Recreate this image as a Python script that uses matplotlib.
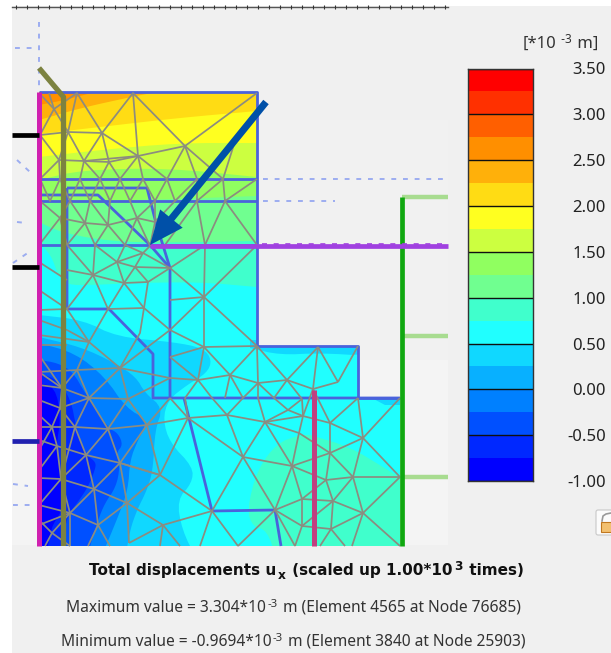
import numpy as np
import matplotlib
matplotlib.use('Agg')
import matplotlib.pyplot as plt
from matplotlib.collections import LineCollection
from matplotlib.colors import ListedColormap
from matplotlib.patches import Polygon, Rectangle, FancyBboxPatch

plt.rcParams['font.family'] = ['Noto Sans', 'DejaVu Sans']

# Colour scale
bar_ticks = [3.50, 3.00, 2.50, 2.00, 1.50, 1.00, 0.50, 0.00, -0.50, -1.00]
bar_colors = ['#0000ff', '#0028ff', '#0050ff', '#0080ff', '#08b0ff', '#10d8ff',
              '#20ffff', '#40ffcc', '#70ff90', '#90ff60', '#ccff40', '#ffff20',
              '#ffdc14', '#ffb00a', '#ff8f00', '#ff5f00', '#ff3000', '#ff0000']

# Outline of the model
model_outline = [(39, 92), (257, 92), (257, 346), (358, 346), (358, 398),
                 (400, 398), (400, 546), (39, 546)]

# Contour bands, lowest layer first
field_base = '#20ffff'
upper_bands = [
    ('#40ffcc', [(39, 243), (51, 255), (58, 275), (67, 285), (93, 285), (133, 283), (200, 282), (257, 287)]),
    ('#70ff90', [(39, 222), (60, 232), (100, 240), (150, 243), (257, 241)]),
    ('#90ff60', [(39, 201), (150, 200), (257, 196)]),
    ('#ccff40', [(39, 180), (81, 170), (167, 168), (257, 177)]),
    ('#ffff20', [(39, 157), (100, 150), (178, 143), (257, 143)]),
    ('#ffdc14', [(39, 134), (100, 127), (178, 118), (257, 111)]),
    ('#ffb00a', [(39, 120), (81, 108), (131, 97), (157, 92)]),
    ('#ff8f00', [(39, 105), (65, 100), (95, 92)]),
]
patch_bands = [
    ('#40ffcc', [(300, 435), (277, 443), (257, 470), (247, 510), (253, 527), (267, 530), (277, 560),
                 (420, 560), (420, 490), (383, 467), (350, 447), (310, 435)]),
    ('#10d8ff', [(250, 348), (280, 355), (320, 353), (370, 356), (370, 340), (250, 340)]),
    ('#10d8ff', [(370, 397), (410, 397), (410, 405), (385, 405)]),
]
blue_bands = [
    ('#10d8ff', [(39, 315), (83, 320), (117, 337), (173, 342), (203, 348), (212, 360), (207, 373), (187, 385),
                 (168, 400), (163, 420), (170, 443), (193, 467), (192, 483), (177, 500), (182, 530), (197, 560)]),
    ('#08b0ff', [(39, 337), (81, 347), (115, 363), (136, 377), (145, 393), (163, 408), (155, 430), (153, 470),
                 (147, 490), (137, 510), (130, 530), (125, 560)]),
    ('#0080ff', [(39, 343), (75, 353), (105, 377), (126, 408), (148, 420), (138, 440), (130, 460), (128, 490),
                 (118, 517), (100, 560)]),
    ('#0050ff', [(39, 360), (58, 363), (73, 372), (85, 393), (108, 428), (118, 433), (123, 445), (116, 453),
                 (120, 467), (116, 487), (105, 503), (98, 520), (86, 560)]),
    ('#0028ff', [(39, 373), (58, 380), (71, 400), (76, 427), (86, 455), (96, 462), (95, 470), (88, 487),
                 (78, 502), (66, 517), (62, 560)]),
    ('#0000ff', [(39, 383), (55, 387), (61, 417), (56, 447), (61, 477), (66, 493), (61, 513), (51, 527), (46, 560)]),
]

# Finite element mesh
mesh_edges = [
    [(39, 93), (54, 109), (77, 93), (102, 133), (133, 93), (138, 156), (102, 133)],
    [(77, 93), (68, 132), (54, 109), (49, 93)], [(54, 109), (40, 135)], [(133, 93), (185, 146), (257, 93)],
    [(40, 135), (68, 132), (102, 133)], [(68, 132), (59, 160), (40, 135)], [(102, 133), (84, 161), (68, 132)],
    [(102, 133), (109, 162), (138, 156), (185, 146)], [(59, 160), (84, 161), (109, 162)], [(84, 161), (138, 156)],
    [(59, 160), (60, 179)], [(59, 160), (40, 179)], [(84, 161), (80, 179)], [(84, 161), (100, 179)],
    [(109, 162), (100, 179)], [(109, 162), (120, 179)], [(138, 156), (120, 179)], [(138, 156), (143, 179)],
    [(138, 156), (167, 179)], [(185, 146), (167, 179)], [(185, 146), (197, 179)], [(185, 146), (223, 179)],
    [(223, 179), (237, 135)],
    [(40, 179), (50, 201), (60, 179), (70, 201), (80, 179), (90, 201), (100, 179), (110, 201), (120, 179),
     (130, 201), (143, 179), (155, 201), (167, 179), (175, 201), (197, 179), (197, 201), (223, 179), (225, 201), (257, 179)],
    [(40, 201), (60, 218), (85, 223), (108, 225), (137, 218), (155, 222)],
    [(60, 218), (70, 201), (85, 223), (90, 201), (108, 225), (110, 201)],
    [(137, 218), (130, 201)], [(137, 218), (155, 201)], [(155, 201), (155, 222)], [(175, 201), (155, 222)],
    [(197, 201), (205, 245)], [(197, 201), (165, 245)], [(225, 201), (205, 245)], [(225, 201), (257, 245)],
    [(60, 218), (39, 245)], [(60, 218), (67, 245)], [(85, 223), (67, 245)], [(85, 223), (95, 245)],
    [(108, 225), (95, 245)], [(108, 225), (125, 245)], [(137, 218), (125, 245)], [(137, 218), (150, 246)],
    [(155, 222), (150, 246)],
    [(67, 245), (93, 275)], [(95, 245), (93, 275)], [(95, 245), (117, 262)], [(125, 245), (117, 262)],
    [(125, 245), (143, 253)], [(150, 246), (143, 253)], [(117, 262), (143, 253), (135, 267), (117, 262)],
    [(143, 253), (170, 268)], [(135, 267), (170, 268)], [(117, 262), (93, 275)], [(117, 262), (124, 283)],
    [(135, 267), (124, 283)], [(135, 267), (148, 282)], [(170, 268), (148, 282)], [(93, 275), (124, 283), (148, 282)],
    [(67, 270), (93, 275)], [(39, 262), (67, 280)], [(205, 245), (170, 268)], [(205, 245), (204, 297)],
    [(257, 245), (204, 297)], [(170, 268), (204, 297)],
    [(170, 300), (204, 297), (257, 346)], [(204, 297), (204, 347)], [(204, 297), (170, 330)], [(170, 330), (144, 308)],
    [(144, 308), (148, 282)], [(144, 308), (124, 283)], [(108, 309), (144, 308)], [(108, 309), (124, 283)],
    [(108, 309), (93, 275)], [(67, 309), (93, 275)], [(170, 330), (204, 347), (257, 346)],
    [(170, 330), (120, 368)], [(144, 308), (140, 333), (120, 368)], [(89, 342), (108, 309)], [(89, 342), (67, 309)],
    [(89, 342), (120, 368)], [(89, 342), (39, 335)], [(89, 342), (77, 370)], [(120, 368), (77, 370), (39, 372)],
    [(120, 368), (89, 398)], [(120, 368), (128, 399)], [(77, 370), (89, 398)], [(89, 398), (128, 399)], [(128, 399), (170, 378)],
    [(170, 357), (204, 347)], [(170, 357), (198, 380)], [(204, 347), (198, 380)], [(204, 347), (230, 375)],
    [(257, 346), (230, 375)], [(257, 346), (258, 383)], [(257, 346), (287, 380)],
    [(120, 368), (170, 378), (198, 380), (230, 375), (258, 383), (287, 380)],
    [(198, 380), (185, 398)], [(198, 380), (212, 398)], [(230, 375), (225, 398)], [(230, 375), (243, 398)],
    [(258, 383), (258, 398)], [(258, 383), (243, 398)], [(258, 383), (274, 398)], [(287, 380), (274, 398)],
    [(287, 380), (302, 399)], [(287, 380), (318, 347)], [(318, 347), (313, 389)], [(318, 347), (338, 382)],
    [(287, 380), (313, 389), (338, 382)], [(338, 382), (358, 346)],
    [(39, 355), (62, 388)], [(39, 385), (62, 388), (89, 398)], [(77, 370), (62, 388)], [(39, 372), (62, 388)],
    [(62, 388), (60, 408)], [(89, 398), (60, 408)], [(39, 400), (60, 408)], [(89, 398), (75, 427)], [(60, 408), (75, 427)],
    [(60, 408), (52, 427)], [(39, 415), (52, 427)], [(39, 427), (52, 427), (75, 427), (108, 429), (147, 425)],
    [(89, 398), (108, 429)], [(128, 399), (108, 429)], [(128, 399), (147, 425)], [(170, 398), (147, 425)],
    [(147, 425), (188, 418), (227, 415), (265, 422)], [(188, 418), (170, 398)], [(188, 418), (185, 398)],
    [(188, 418), (243, 457)], [(227, 415), (243, 457)], [(265, 422), (243, 457)], [(227, 415), (212, 398)],
    [(227, 415), (243, 398)], [(265, 422), (258, 398)], [(265, 422), (288, 410)], [(288, 410), (274, 398)],
    [(288, 410), (302, 399)], [(288, 410), (303, 416)], [(303, 416), (302, 399)], [(303, 416), (313, 389)],
    [(303, 416), (265, 422)], [(303, 416), (330, 423)], [(313, 389), (330, 423)], [(330, 423), (358, 398)],
    [(330, 423), (363, 438)], [(400, 398), (363, 438), (358, 398)], [(330, 423), (330, 453)], [(299, 433), (303, 416)],
    [(299, 433), (265, 422)], [(299, 433), (292, 466)], [(299, 433), (330, 453)], [(265, 422), (292, 466)],
    [(243, 457), (292, 466)], [(292, 466), (330, 453), (363, 438)], [(330, 453), (353, 477)], [(363, 438), (353, 477)],
    [(363, 438), (400, 477)], [(353, 477), (400, 477)], [(326, 480), (353, 477)], [(326, 480), (330, 453)],
    [(292, 466), (326, 480)], [(292, 466), (302, 499)], [(326, 480), (302, 499)], [(326, 480), (333, 501)],
    [(302, 499), (333, 501)], [(353, 477), (333, 501)], [(353, 477), (363, 513)], [(400, 477), (363, 513)],
    [(333, 501), (363, 513)], [(302, 499), (275, 510)], [(302, 499), (302, 526)], [(333, 501), (302, 526)],
    [(333, 501), (331, 529)], [(302, 526), (331, 529)], [(363, 513), (331, 529)], [(363, 513), (352, 546)],
    [(363, 513), (400, 546)], [(275, 510), (302, 526)], [(302, 526), (295, 546)], [(331, 529), (320, 546)],
    [(331, 529), (345, 546)], [(275, 510), (292, 466)], [(243, 457), (275, 510)], [(243, 457), (212, 511)],
    [(188, 418), (160, 475)], [(147, 425), (160, 475)], [(160, 475), (212, 511)], [(160, 475), (120, 463)],
    [(147, 425), (120, 463)], [(108, 429), (120, 463)], [(108, 429), (86, 455)], [(75, 427), (86, 455)],
    [(57, 446), (86, 455), (120, 463), (160, 475)], [(86, 455), (94, 489), (120, 463)], [(120, 463), (127, 503)],
    [(61, 479), (86, 455)], [(61, 479), (94, 489)], [(61, 479), (70, 513)], [(94, 489), (70, 513)],
    [(94, 489), (127, 503), (163, 525)], [(160, 475), (127, 503)], [(163, 525), (212, 511)], [(163, 525), (129, 543)],
    [(127, 503), (129, 543)], [(127, 503), (98, 525)], [(94, 489), (98, 525)], [(70, 513), (98, 525)], [(98, 525), (88, 546)],
    [(98, 525), (110, 546)], [(70, 513), (52, 533)], [(52, 533), (39, 520)], [(52, 533), (45, 546)], [(52, 533), (70, 546)],
    [(70, 513), (70, 546)], [(163, 525), (160, 546)], [(163, 525), (180, 546)], [(212, 511), (200, 546)],
    [(212, 511), (238, 546)], [(275, 510), (238, 546)], [(275, 510), (295, 546)], [(52, 427), (57, 446)],
    [(39, 440), (57, 446)], [(52, 427), (39, 450)], [(57, 446), (39, 470)], [(57, 446), (61, 479)], [(39, 478), (61, 479)],
    [(39, 505), (61, 479)], [(39, 505), (70, 513)], [(39, 525), (70, 513)], [(61, 479), (75, 427)],
    [(39, 290), (67, 309)], [(39, 310), (67, 309)], [(39, 320), (67, 330)], [(67, 330), (89, 342)], [(39, 345), (67, 345)],
]

# Soil layers and structures
layer_lines = [
    [(39, 92), (257, 92), (257, 346), (358, 346), (358, 398), (400, 398)],
    [(39, 179), (257, 179)], [(39, 201), (257, 201)], [(39, 245), (257, 245)],
    [(67, 188), (147, 188), (156, 223), (170, 268), (170, 398)],
    [(40, 195), (98, 195), (150, 245), (170, 268)],
    [(67, 188), (67, 309), (109, 309), (153, 354), (153, 398), (400, 398)],
    [(184, 398), (212, 511), (275, 510), (281, 546)],
]
wall_left = [(39, 92), (39, 546)]
pile_left = [(39, 68), (63.5, 97), (63.5, 546)]
pile_right = [(314, 390), (314, 546)]
wall_right = [(402, 197), (402, 546)]
anchors = [[(402, 197), (448, 197)], [(402, 336), (448, 336)], [(402, 477), (448, 477)]]
strut = [(150, 246), (448, 246)]
strut_dashes = [(262, 244), (448, 244)]
stubs_black = [[(12, 135), (39, 135)], [(12, 267), (39, 267)]]
stub_blue = [(12, 441), (39, 441)]
dashed_lines = [
    [(39, 22), (39, 92)], [(15, 48), (35, 48)],
    [(263, 179), (448, 179)], [(263, 201), (335, 201)],
    [(13, 263), (32, 250)], [(13, 484), (28, 486)], [(13, 505), (35, 505)],
    [(17, 160), (30, 172)], [(17, 222), (26, 223)],
]
load_arrow = [(266, 102), (150, 245)]

# Text
unit_runs = [('[*10', 12.0, 'normal', 0), ('\u00a0-3', 8.5, 'normal', 5), (' m]', 12.0, 'normal', 0)]
title_runs = [('Total displacements u', 10.95, 'bold', 0), ('x', 8.8, 'bold', -4),
              (' (scaled up 1.00*10', 10.95, 'bold', 0), ('3', 8.8, 'bold', 5), (' times)', 10.95, 'bold', 0)]
max_runs = [('Maximum value = 3.304*10', 11.2, 'normal', 0), ('-3', 8.2, 'normal', 5),
            (' m (Element 4565 at Node 76685)', 11.2, 'normal', 0)]
min_runs = [('Minimum value = -0.9694*10', 11.2, 'normal', 0), ('-3', 8.2, 'normal', 5),
            (' m (Element 3840 at Node 25903)', 11.2, 'normal', 0)]

def smooth(points, rounds=2):
    # corner cutting so the contour edges look rounded, end points stay
    pts = np.array(points, dtype=float)
    for _ in range(rounds):
        q = 0.75 * pts[:-1] + 0.25 * pts[1:]
        r = 0.25 * pts[:-1] + 0.75 * pts[1:]
        mid = np.empty((2 * len(q), 2))
        mid[0::2] = q
        mid[1::2] = r
        pts = np.vstack([pts[0], mid, pts[-1]])
    return pts

fig = plt.figure(figsize=(6.11, 6.53), dpi=100, facecolor='white')
ax = fig.add_axes([0, 0, 1, 1])
ax.set_xlim(0, 611)
ax.set_ylim(653, 0)
ax.axis('off')

# Panels
ax.add_patch(Rectangle((12, 6), 599, 647, color='#f0f0f0', lw=0, zorder=0))
ax.add_patch(Rectangle((12, 120), 436, 240, color='#f1f1f1', lw=0, zorder=0))
ax.add_patch(Rectangle((12, 360), 436, 185, color='#f4f4f4', lw=0, zorder=0))
ax.plot([12, 448], [7, 7], color='#555555', lw=1.0, zorder=1)
ax.plot(np.arange(16, 448, 11), np.full(40, 6.5), ls='none', marker='|', ms=2.5, color='#333333', mew=0.8, zorder=1)

# Coloured field clipped to the model
model_patch = Polygon(model_outline, closed=True, facecolor=field_base, edgecolor='none', zorder=2)
ax.add_patch(model_patch)
for color, boundary in upper_bands:
    edge = smooth(boundary)
    poly = Polygon(np.vstack([[(30, 80)], [(30, edge[0][1])], edge, [(270, edge[-1][1])], [(270, 80)]]),
                   closed=True, facecolor=color, edgecolor='none', zorder=2.1)
    ax.add_patch(poly)
    poly.set_clip_path(model_patch)
for color, boundary in patch_bands:
    poly = Polygon(smooth(boundary), closed=True, facecolor=color, edgecolor='none', zorder=2.2)
    ax.add_patch(poly)
    poly.set_clip_path(model_patch)
for color, boundary in blue_bands:
    edge = smooth(boundary)
    poly = Polygon(np.vstack([[(30, edge[0][1])], edge, [(30, 560)]]),
                   closed=True, facecolor=color, edgecolor='none', zorder=2.3)
    ax.add_patch(poly)
    poly.set_clip_path(model_patch)

for line in dashed_lines:
    xs, ys = zip(*line)
    ax.plot(xs, ys, color='#9cadf0', lw=1.4, ls=(0, (2.5, 3.5)), zorder=1.5)

ax.add_collection(LineCollection(layer_lines, colors='#4a62dc', linewidths=2.0, zorder=3))
ax.add_collection(LineCollection(mesh_edges, colors='#8c8c80', linewidths=1.25, zorder=3.2))

def draw_line(points, color, lw, zorder=4, cap='butt'):
    xs, ys = zip(*points)
    ax.plot(xs, ys, color=color, lw=lw, zorder=zorder, solid_capstyle=cap, solid_joinstyle='round')

for line in anchors:
    draw_line(line, '#a8dc90', 3.2)
draw_line(wall_right, '#10a810', 3.4, zorder=4.2)
draw_line(strut, '#a040e0', 3.4, zorder=4.4)
xs, ys = zip(*strut_dashes)
ax.plot(xs, ys, color='#a040e0', lw=1.2, ls=(0, (3, 4)), zorder=4.3)
draw_line(wall_left, '#d020b0', 3.6)
draw_line(pile_left, '#7c8240', 3.8, zorder=4.6)
draw_line(pile_right, '#c04080', 3.6)
for line in stubs_black:
    draw_line(line, 'black', 3.4)
draw_line(stub_blue, '#2020b0', 3.4)

(x0, y0), (x1, y1) = load_arrow
ax.arrow(x0, y0, x1 - x0, y1 - y0, width=7, head_width=29, head_length=34,
         length_includes_head=True, color='#0050a8', lw=0, zorder=5)

# Small icon at the right edge
ax.add_patch(FancyBboxPatch((596, 510), 19, 25, boxstyle='round,pad=0,rounding_size=2',
                            facecolor='#fbfbfb', edgecolor='#c8c8c8', lw=0.8, zorder=2))
ax.add_patch(Rectangle((601, 522), 12, 10, facecolor='#f2c070', edgecolor='#c07820', lw=0.8, zorder=2.1))
ax.plot([602, 603, 606, 611], [521, 516, 514, 513], color='#999999', lw=1.2, zorder=2.1)

# Colour bar on its own axes, with the scale taken from the ticks
bar_left, bar_right, bar_top, bar_bottom = 468, 533, 68.5, 481
bar_ax = fig.add_axes([bar_left / 611, 1 - bar_bottom / 653, (bar_right - bar_left) / 611, (bar_bottom - bar_top) / 653])
levels = np.linspace(min(bar_ticks), max(bar_ticks), len(bar_colors) + 1)
bar_ax.pcolormesh([0, 1], levels, np.arange(len(bar_colors)).reshape(-1, 1),
                  cmap=ListedColormap(bar_colors), shading='flat')
bar_ax.hlines(bar_ticks, 0, 1, color='#101010', lw=1.0)
bar_ax.set_xlim(0, 1)
bar_ax.set_ylim(min(bar_ticks), max(bar_ticks))
bar_ax.set_xticks([])
bar_ax.yaxis.tick_right()
bar_ax.set_yticks(bar_ticks)
bar_ax.set_yticklabels([f'{v:.2f}' for v in bar_ticks], ha='right')
bar_ax.tick_params(axis='y', length=0, pad=52.5, labelsize=12, labelcolor='#222222')
for spine in bar_ax.spines.values():
    spine.set_color('#333333')
    spine.set_linewidth(1.0)

def draw_runs(center, baseline, runs, color='#222222'):
    renderer = fig.canvas.get_renderer()
    items = []
    total = 0
    for text, size, weight, rise in runs:
        family = 'DejaVu Sans' if weight == 'bold' else 'Noto Sans'
        t = ax.text(0, baseline - rise, text.replace(' ', '\u00a0'), fontsize=size, fontweight=weight,
                    family=family, color=color, ha='left', va='baseline')
        width = t.get_window_extent(renderer).width
        items.append((t, total))
        total += width + 1.5
    for t, offset in items:
        t.set_x(center - total / 2 + offset)

draw_runs(307, 575, title_runs, color='#111111')
draw_runs(294, 612, max_runs, color='#333333')
draw_runs(294, 646, min_runs, color='#333333')
draw_runs(561, 48, unit_runs, color='#333333')

fig.savefig('out.png', dpi=100)
